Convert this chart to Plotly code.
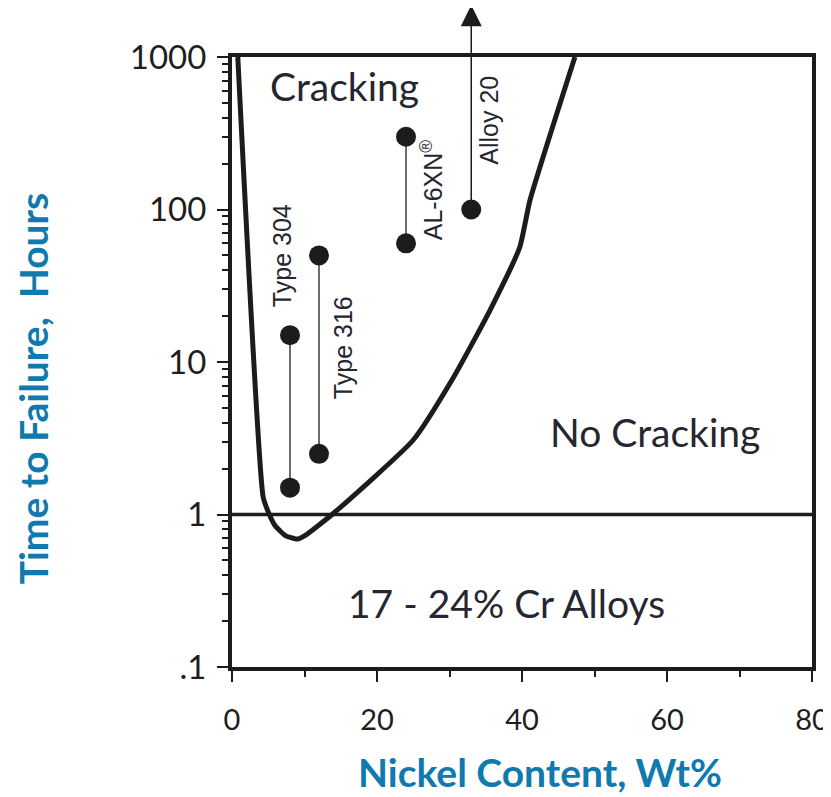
import numpy as np
import plotly.graph_objects as go

# boundary curve between cracking / no cracking (Ni wt%, hours)
curve_ni = [0.8, 4.3, 5.0, 5.9, 7.3, 9.0, 10.1, 13.8, 25.0, 30.5, 35.6, 39.7, 41.1, 47.3]
curve_hr = [1000, 1.30, 1.04, 0.85, 0.73, 0.69, 0.73, 1.0, 3.08, 7.85, 21.9, 56.8, 115, 1000]

# alloy test results (min / max time to failure)
type304_ni = [8, 8]
type304_hr = [1.5, 15]
type316_ni = [12, 12]
type316_hr = [2.5, 50]
al6xn_ni = [24, 24]
al6xn_hr = [60, 300]
alloy20_ni = [33]
alloy20_hr = [100]

x_ticks = [0, 20, 40, 60, 80]
y_ticks = [0.1, 1, 10, 100, 1000]
y_ticktext = [".1", "1", "10", "100", "1000"]
y_minor = [m * 10.0 ** e for e in range(-1, 3) for m in range(2, 10)]

INK = "#1c1c1c"
TEAL = "#1079ad"
FONT = "Lato"

fig = go.Figure()

fig.add_trace(go.Scatter(x=curve_ni, y=curve_hr, mode="lines",
                         line=dict(color=INK, width=5, shape="spline", smoothing=0.5),
                         hoverinfo="skip"))

for xs, ys in [(type304_ni, type304_hr), (type316_ni, type316_hr), (al6xn_ni, al6xn_hr)]:
    fig.add_trace(go.Scatter(x=xs, y=ys, mode="lines+markers",
                             line=dict(color="#3a3a3a", width=1.5),
                             marker=dict(color=INK, size=20)))

fig.add_trace(go.Scatter(x=alloy20_ni, y=alloy20_hr, mode="markers",
                         marker=dict(color=INK, size=20)))

# Alloy 20 did not fail: arrow going off the top of the chart
fig.add_annotation(x=alloy20_ni[0], y=3.34, xref="x", yref="y",
                   ax=alloy20_ni[0], ay=np.log10(alloy20_hr[0]), axref="x", ayref="y",
                   text="", showarrow=True, arrowhead=2, arrowsize=2.8,
                   arrowwidth=1.5, arrowcolor=INK)

fig.add_hline(y=1, line=dict(color=INK, width=3.5))

# region labels
region_font = dict(family=FONT, size=39, color="#262630")
fig.add_annotation(x=15.5, y=np.log10(646), text="Cracking", showarrow=False, font=region_font)
fig.add_annotation(x=58.3, y=np.log10(3.47), text="No Cracking", showarrow=False, font=region_font)
fig.add_annotation(x=37.8, y=np.log10(0.263), text="17 - 24% Cr Alloys", showarrow=False, font=region_font)

# alloy labels
alloy_font = dict(family="Liberation Sans, Arial", size=25, color="#262630")
for txt, xn, yh in [("Type 304", 7.0, 50), ("Type 316", 15.3, 12.5),
                    ("AL-6XN<sup>®</sup>", 27.6, 134), ("Alloy 20", 35.4, 386)]:
    fig.add_annotation(x=xn, y=np.log10(yh), text=txt, textangle=-90,
                       showarrow=False, font=alloy_font)

# axis titles sit off-centre in the original, so place them as annotations
title_font = dict(family=FONT, size=39, color=TEAL)
fig.add_annotation(xref="paper", yref="paper", x=-0.343, y=0.457, textangle=-90,
                   xanchor="center", yanchor="middle",
                   text="<b>Time to Failure,  Hours</b>", showarrow=False, font=title_font)
fig.add_annotation(xref="paper", yref="paper", x=0.531, y=-0.172,
                   xanchor="center", yanchor="middle",
                   text="<b>Nickel Content, Wt%</b>", showarrow=False, font=title_font)

fig.update_xaxes(range=[0, 80], tickvals=x_ticks, ticks="outside", ticklen=11, tickwidth=2,
                 tickcolor=INK, showline=True, linewidth=4, linecolor=INK, mirror=True,
                 showgrid=False, zeroline=False, ticklabelstandoff=13, automargin=False,
                 ticklabeloverflow="allow",
                 minor=dict(dtick=10, ticks="outside", ticklen=6, tickwidth=1.5, tickcolor=INK),
                 tickfont=dict(family=FONT, size=29, color="#1e1e1e"))
fig.update_yaxes(type="log", range=[-1, 3], tickvals=y_ticks, ticktext=y_ticktext,
                 ticks="outside", ticklen=11, tickwidth=2, tickcolor=INK,
                 showline=True, linewidth=4, linecolor=INK, mirror=True,
                 showgrid=False, zeroline=False, ticklabelstandoff=4, automargin=False,
                 minor=dict(tickvals=y_minor, ticks="outside", ticklen=6, tickwidth=1.5,
                            tickcolor=INK, showgrid=False),
                 tickfont=dict(family=FONT, size=33, color="#1e1e1e"))

# page body has an 8px margin, so the figure is trimmed to land the plot area in place
fig.update_layout(width=823, height=789, showlegend=False,
                  margin=dict(l=224, r=19, t=49, b=130),
                  plot_bgcolor="white", paper_bgcolor="white")

fig.write_html("out.html")
